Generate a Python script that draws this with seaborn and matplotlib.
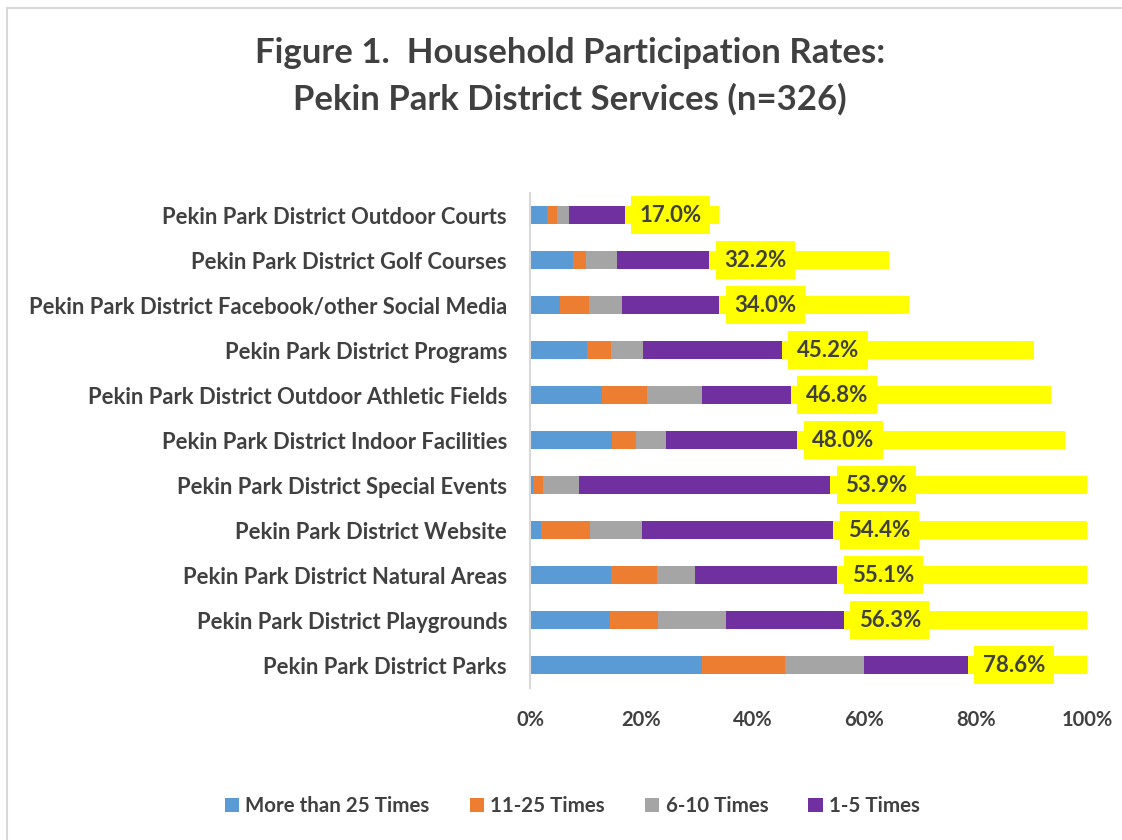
import matplotlib
matplotlib.use("Agg")
import matplotlib.pyplot as plt
import seaborn as sns
import pandas as pd
import numpy as np
from matplotlib.patches import Rectangle, Patch

# ========== Data ==========
services = [
    "Pekin Park District Outdoor Courts",
    "Pekin Park District Golf Courses",
    "Pekin Park District Facebook/other Social Media",
    "Pekin Park District Programs",
    "Pekin Park District Outdoor Athletic Fields",
    "Pekin Park District Indoor Facilities",
    "Pekin Park District Special Events",
    "Pekin Park District Website",
    "Pekin Park District Natural Areas",
    "Pekin Park District Playgrounds",
    "Pekin Park District Parks",
]
more_than_25 = [3.1, 7.8, 5.4, 10.2, 12.9, 14.8, 0.6, 2.0, 14.6, 14.3, 30.9]
times_11_25 = [1.8, 2.3, 5.1, 4.3, 8.1, 4.2, 1.8, 8.8, 8.2, 8.7, 14.8]
times_6_10 = [2.1, 5.5, 6.1, 5.8, 9.9, 5.4, 6.4, 9.3, 6.8, 12.1, 14.2]
total = [17.0, 32.2, 34.0, 45.2, 46.8, 48.0, 53.9, 54.4, 55.1, 56.3, 78.6]

series_names = ["More than 25 Times", "11-25 Times", "6-10 Times", "1-5 Times"]
colors = ["#5B9BD5", "#ED7D31", "#A5A5A5", "#7030A0"]
yellow = "#FFFF00"
txt = "#404040"

df = pd.DataFrame({"service": services, "s1": more_than_25, "s2": times_11_25,
                   "s3": times_6_10, "total": total})
df["c1"] = df["s1"]
df["c2"] = df["c1"] + df["s2"]
df["c3"] = df["c2"] + df["s3"]
df["c4"] = df["total"]
df["c5"] = df["total"] * 2  # total series stacked on top (clipped at 100%)

# ========== Plot ==========
sns.set_theme(style="white")
plt.rcParams["font.family"] = ["Lato", "DejaVu Sans"]
plt.rcParams["font.weight"] = "bold"

fig = plt.figure(figsize=(11.22, 8.4), dpi=100)
ax = fig.add_axes([0.4724, 0.1815, 0.4964, 0.5893])

# draw longest cumulative first so shorter segments sit on top
for col, c in zip(["c5", "c4", "c3", "c2", "c1"], [yellow] + colors[::-1]):
    sns.barplot(data=df, x=col, y="service", orient="h", color=c,
                width=0.4, ax=ax, saturation=1, linewidth=0)

for i, t in enumerate(total):
    ax.text(t + 2.7, i, f"{t:.1f}%", ha="left", va="center", fontsize=16,
            fontweight="bold", color=txt,
            bbox=dict(boxstyle="square,pad=0.38", facecolor=yellow, edgecolor="none"))

ax.set_xlim(0, 100)
ax.set_ylim(10.5, -0.5)
ax.set_xticks(np.arange(0, 101, 20))
ax.set_xticklabels([f"{v}%" for v in range(0, 101, 20)])
ax.set_xlabel("")
ax.set_ylabel("")
ax.tick_params(axis="x", labelsize=14.5, colors=txt, pad=16, length=0)
ax.tick_params(axis="y", labelsize=15.8, colors=txt, pad=16.5, length=0)
for lab in ax.get_xticklabels() + ax.get_yticklabels():
    lab.set_fontweight("bold")
for s in ["top", "right", "bottom"]:
    ax.spines[s].set_visible(False)
ax.spines["left"].set_color("#D9D9D9")
ax.spines["left"].set_linewidth(1.5)

fig.text(0.508, 0.937, "Figure 1.  Household Participation Rates:", ha="center",
         va="center", fontsize=25, fontweight="bold", color=txt)
fig.text(0.508, 0.882, "Pekin Park District Services (n=326)", ha="center",
         va="center", fontsize=25, fontweight="bold", color=txt)

handles = [Patch(facecolor=c, edgecolor="none", label=n) for n, c in zip(series_names, colors)]
fig.legend(handles=handles, loc="center", bbox_to_anchor=(0.510, 0.04), ncol=4,
           frameon=False, fontsize=14.8, handlelength=0.7, handleheight=0.7,
           handletextpad=0.3, columnspacing=1.95, labelcolor=txt)

# chart area border (partly cropped in reference)
fig.patches.append(Rectangle((7 / 1122, -0.1), 1.2, 1 - 8 / 840 + 0.1, transform=fig.transFigure,
                             fill=False, edgecolor="#D9D9D9", linewidth=1.5))

fig.savefig("out.png", dpi=100)
